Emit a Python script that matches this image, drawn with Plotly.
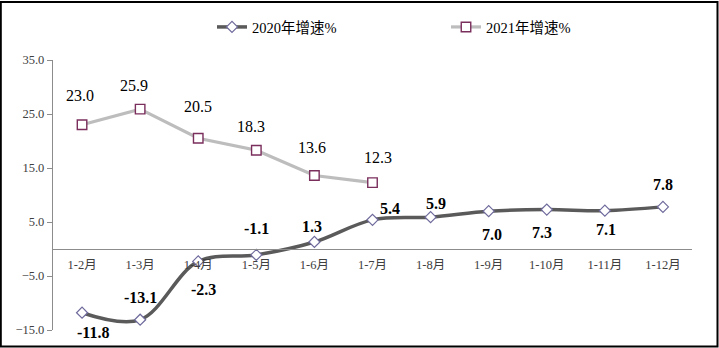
import plotly.graph_objects as go

# Cumulative growth rate by period (%)
periods = ["1-2月", "1-3月", "1-4月", "1-5月", "1-6月", "1-7月",
           "1-8月", "1-9月", "1-10月", "1-11月", "1-12月"]
growth_2020 = [-11.8, -13.1, -2.3, -1.1, 1.3, 5.4, 5.9, 7.0, 7.3, 7.1, 7.8]
growth_2021 = [23.0, 25.9, 20.5, 18.3, 13.6, 12.3]
y_ticks = [-15, -5, 5, 15, 25, 35]

# value-label offsets in pixels (dx, dy with +dy upward)
shift_2020 = [(11, -20), (0, 22), (5, -28), (0, 26), (-2, 15),
              (17, 11), (5, 14), (3, -23), (-5, -23), (1, -19), (0, 22)]
shift_2021 = [(-2, 29), (-6, 24), (0, 32), (-5, 24), (-2, 28), (5, 25)]

W, H = 719, 348
ML, MR, MT, MB = 53, 27, 59, 18
PW, PH = W - ML - MR, H - MT - MB

SERIF = "Times New Roman, Liberation Serif, DejaVu Serif, Noto Sans CJK SC, serif"

fig = go.Figure()
fig.add_trace(go.Scatter(
    x=periods, y=growth_2020, name="2020年增速%", mode="lines+markers",
    line=dict(color="#5a5a5a", width=3.5, shape="spline", smoothing=1.0),
    marker=dict(symbol="diamond", size=8.5, color="white",
                line=dict(color="#6e6a9c", width=1.2)),
    legend="legend", showlegend=True,
))
fig.add_trace(go.Scatter(
    x=periods[:len(growth_2021)], y=growth_2021, name="2021年增速%",
    mode="lines+markers",
    line=dict(color="#bdbdbd", width=3.2),
    marker=dict(symbol="square", size=9.5, color="white",
                line=dict(color="#7a2e5c", width=1.4)),
    legend="legend2", showlegend=True,
))

annotations = []
for cat, v, (dx, dy) in zip(periods, growth_2020, shift_2020):
    annotations.append(dict(
        x=cat, y=v, xref="x", yref="y", text=f"<b>{v:.1f}</b>",
        showarrow=False, xshift=dx, yshift=dy,
        font=dict(family=SERIF, size=16, color="#000000"),
    ))
for cat, v, (dx, dy) in zip(periods, growth_2021, shift_2021):
    annotations.append(dict(
        x=cat, y=v, xref="x", yref="y", text=f"{v:.1f}",
        showarrow=False, xshift=dx, yshift=dy,
        font=dict(family=SERIF, size=16, color="#000000"),
    ))

y_min, y_max = -15, 35
zero_frac = (0 - y_min) / (y_max - y_min)

# outer frame around the whole figure (pixel rows converted to paper units)
frame = dict(
    type="rect", xref="paper", yref="paper",
    x0=(0.8 - ML) / PW, x1=(717.5 - ML) / PW,
    y0=(MT + PH - 346.5) / PH, y1=(MT + PH - 0.8) / PH,
    line=dict(color="#000000", width=2), fillcolor="rgba(0,0,0,0)",
    layer="above",
)

fig.update_layout(
    width=W, height=H,
    margin=dict(l=ML, r=MR, t=MT, b=MB, pad=0),
    paper_bgcolor="white", plot_bgcolor="white",
    font=dict(family=SERIF, color="#404040"),
    showlegend=True,
    xaxis=dict(
        type="category", range=[-0.5, len(periods) - 0.5],
        anchor="free", position=zero_frac,
        showline=True, linecolor="#8c8c8c", linewidth=1.3,
        showgrid=False, zeroline=False, ticks="",
        ticklabelstandoff=4,
        tickfont=dict(family=SERIF, size=12.5, color="#404040"),
    ),
    yaxis=dict(
        range=[y_min, y_max], tickvals=y_ticks,
        ticktext=[f"{t:.1f}".replace("-", "\u2212") for t in y_ticks],
        showline=True, linecolor="#8c8c8c", linewidth=1.3,
        ticks="outside", ticklen=5, tickcolor="#8c8c8c", tickwidth=1.2,
        showgrid=False, zeroline=False,
        tickfont=dict(family=SERIF, size=12.5, color="#404040"),
    ),
    legend=dict(
        x=(212 - ML) / PW, y=(MT + PH - 27) / PH,
        xanchor="left", yanchor="middle", orientation="h",
        font=dict(family=SERIF, size=14.5, color="#000000"),
        bgcolor="rgba(0,0,0,0)",
    ),
    legend2=dict(
        x=(446 - ML) / PW, y=(MT + PH - 27) / PH,
        xanchor="left", yanchor="middle", orientation="h",
        font=dict(family=SERIF, size=14.5, color="#000000"),
        bgcolor="rgba(0,0,0,0)",
    ),
    annotations=annotations,
    shapes=[frame],
)

fig.write_html("out.html")
